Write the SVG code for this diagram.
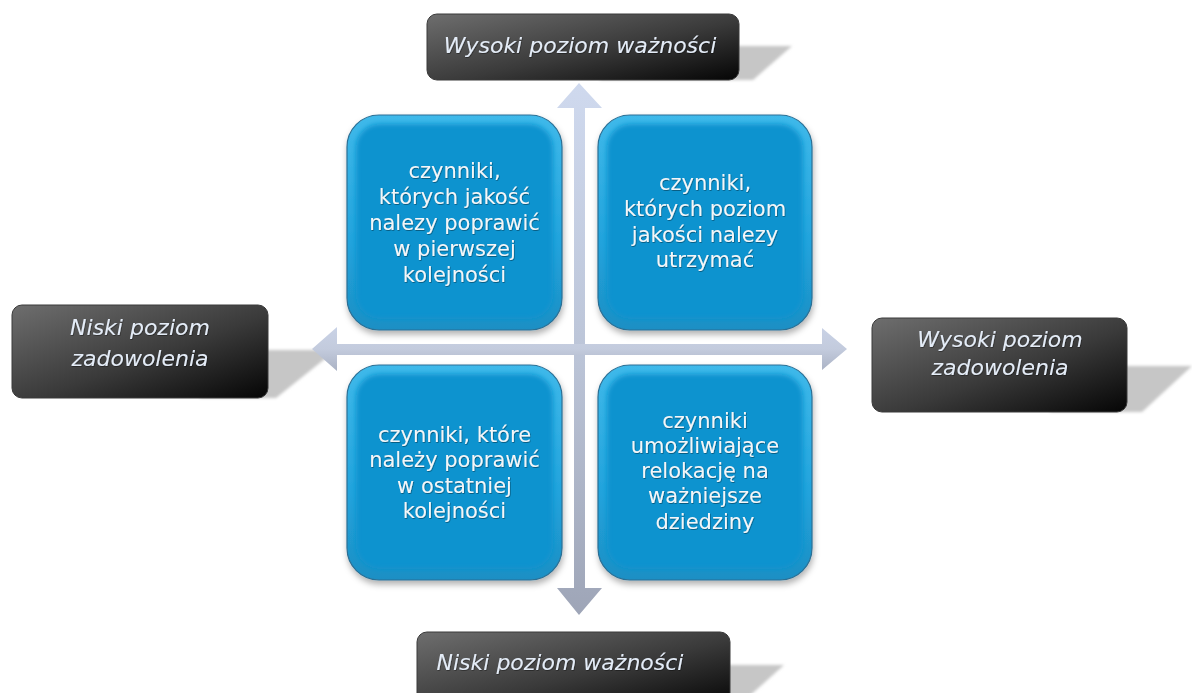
<svg xmlns="http://www.w3.org/2000/svg" width="1192" height="693" viewBox="0 0 1192 693">
<defs>
<style>
.lbl{font-family:"DejaVu Sans","Verdana",sans-serif;font-style:italic;font-size:22px;fill:#e4ecf7;text-anchor:middle}
.bt{font-family:"DejaVu Sans","Verdana",sans-serif;font-size:21px;fill:#f4f6f8;text-anchor:middle}
.sh{fill:#c6c6c6;filter:url(#blur)}
.dark{fill:url(#darkg);stroke:#3a3a3a;stroke-width:1}
.outer{fill:url(#bev);stroke:#2a6f95;stroke-width:1.2;filter:url(#drop)}
.inner{fill:#0b93cf;filter:url(#soft)}
</style>
<linearGradient id="darkg" x1="0" y1="0" x2="1" y2="1">
<stop offset="0" stop-color="#6e6e6e"/>
<stop offset="0.55" stop-color="#3a3a3a"/>
<stop offset="1" stop-color="#050505"/>
</linearGradient>
<linearGradient id="bev" x1="0" y1="0" x2="0" y2="1">
<stop offset="0" stop-color="#3fb9ea"/>
<stop offset="0.6" stop-color="#22a3dc"/>
<stop offset="1" stop-color="#1d8fc4"/>
</linearGradient>
<linearGradient id="vg" x1="0" y1="83" x2="0" y2="615" gradientUnits="userSpaceOnUse">
<stop offset="0" stop-color="#cfd9ee"/>
<stop offset="0.5" stop-color="#bcc5d8"/>
<stop offset="1" stop-color="#9ea5b7"/>
</linearGradient>
<linearGradient id="hg" x1="0" y1="327" x2="0" y2="371" gradientUnits="userSpaceOnUse">
<stop offset="0" stop-color="#c9d2e6"/>
<stop offset="0.5" stop-color="#c3cbdd"/>
<stop offset="1" stop-color="#aab2c4"/>
</linearGradient>
<filter id="blur" x="-20%" y="-50%" width="140%" height="200%"><feGaussianBlur stdDeviation="1.5"/></filter>
<filter id="soft" x="-10%" y="-10%" width="120%" height="120%"><feGaussianBlur stdDeviation="2.5"/></filter>
<filter id="drop" x="-10%" y="-10%" width="125%" height="125%"><feDropShadow dx="1" dy="4" stdDeviation="3" flood-color="#000" flood-opacity="0.3"/></filter>
<filter id="tsh" x="-10%" y="-20%" width="120%" height="140%"><feDropShadow dx="0.6" dy="0.8" stdDeviation="0.4" flood-color="#000" flood-opacity="0.45"/></filter>
</defs>
<rect width="1192" height="693" fill="#ffffff"/>

<g id="shadows">
<polygon class="sh" points="600,46 792,46 753,80 600,80"/>
<polygon class="sh" points="200,350 336,350 276,398 200,398"/>
<polygon class="sh" points="1050,366 1192,366 1142,412 1050,412"/>
<polygon class="sh" points="640,665 784,665 745,700 640,700"/>
</g>

<g id="connectors">
<polygon fill="url(#vg)" points="579,83 602,108 585,108 585,588 602,588 579,615 557,588 574,588 574,108 557,108"/>
<polygon fill="url(#hg)" points="312,349 337,327 337,344 822,344 822,328 847,349 822,370 822,355 337,355 337,371"/>
</g>

<g id="label-top">
<rect class="dark" x="427" y="14" width="312" height="66" rx="10"/>
<text class="lbl" x="580" y="53" filter="url(#tsh)">Wysoki poziom ważności</text>
</g>
<g id="label-left">
<rect class="dark" x="12" y="305" width="256" height="93" rx="10"/>
<text class="lbl" x="140" y="335" filter="url(#tsh)">Niski poziom</text>
<text class="lbl" x="140" y="366" filter="url(#tsh)">zadowolenia</text>
</g>
<g id="label-right">
<rect class="dark" x="872" y="318" width="255" height="94" rx="10"/>
<text class="lbl" x="1000" y="347" filter="url(#tsh)">Wysoki poziom</text>
<text class="lbl" x="1000" y="375" filter="url(#tsh)">zadowolenia</text>
</g>
<g id="label-bottom">
<rect class="dark" x="417" y="632" width="313" height="75" rx="10"/>
<text class="lbl" x="560" y="670" filter="url(#tsh)">Niski poziom ważności</text>
</g>

<g id="box-tl">
<rect class="outer" x="347" y="115" width="215" height="215" rx="32"/>
<rect class="inner" x="356" y="124" width="197" height="195" rx="24"/>
<text class="bt" x="454.5" y="178" filter="url(#tsh)">czynniki,</text>
<text class="bt" x="454.5" y="204" filter="url(#tsh)">których jakość</text>
<text class="bt" x="454.5" y="230" filter="url(#tsh)">nalezy poprawić</text>
<text class="bt" x="454.5" y="256" filter="url(#tsh)">w pierwszej</text>
<text class="bt" x="454.5" y="282" filter="url(#tsh)">kolejności</text>
</g>
<g id="box-tr">
<rect class="outer" x="598" y="115" width="214" height="215" rx="32"/>
<rect class="inner" x="607" y="124" width="196" height="195" rx="24"/>
<text class="bt" x="705" y="190" filter="url(#tsh)">czynniki,</text>
<text class="bt" x="705" y="216" filter="url(#tsh)">których poziom</text>
<text class="bt" x="705" y="242" filter="url(#tsh)">jakości nalezy</text>
<text class="bt" x="705" y="267" filter="url(#tsh)">utrzymać</text>
</g>
<g id="box-bl">
<rect class="outer" x="347" y="365" width="215" height="215" rx="32"/>
<rect class="inner" x="356" y="374" width="197" height="195" rx="24"/>
<text class="bt" x="454.5" y="442" filter="url(#tsh)">czynniki, które</text>
<text class="bt" x="454.5" y="467" filter="url(#tsh)">należy poprawić</text>
<text class="bt" x="454.5" y="493" filter="url(#tsh)">w ostatniej</text>
<text class="bt" x="454.5" y="518" filter="url(#tsh)">kolejności</text>
</g>
<g id="box-br">
<rect class="outer" x="598" y="365" width="214" height="215" rx="32"/>
<rect class="inner" x="607" y="374" width="196" height="195" rx="24"/>
<text class="bt" x="705" y="428" filter="url(#tsh)">czynniki</text>
<text class="bt" x="705" y="453" filter="url(#tsh)">umożliwiające</text>
<text class="bt" x="705" y="478" filter="url(#tsh)">relokację na</text>
<text class="bt" x="705" y="503" filter="url(#tsh)">ważniejsze</text>
<text class="bt" x="705" y="529" filter="url(#tsh)">dziedziny</text>
</g>
</svg>
